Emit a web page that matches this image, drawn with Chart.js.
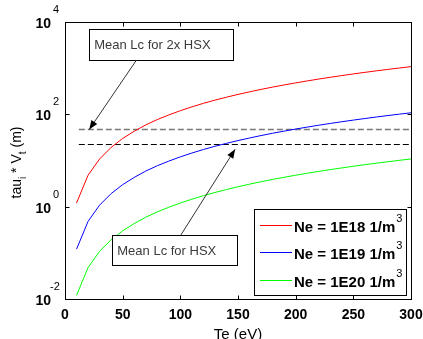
<!DOCTYPE html>
<html>
<head>
<meta charset="utf-8">
<script src="https://cdn.jsdelivr.net/npm/chart.js@4"></script>
<style>
  html, body { margin: 0; padding: 0; background: #fff; }
  #chart { display: block; }
</style>
</head>
<body>
<canvas id="chart" width="423" height="339"></canvas>
<script>
// electron temperature (eV)
const te = [10, 20, 30, 40, 50, 60, 70, 80, 90, 100, 110, 120, 130, 140, 150,
            160, 170, 180, 190, 200, 210, 220, 230, 240, 250, 260, 270, 280, 290, 300];

// tau_i * V_t (m) for each density
const ne18 = [1.2, 4.8, 10.8, 19.2, 30, 43, 59, 77, 97, 120, 145, 173, 203, 235, 270,
              307, 347, 389, 433, 480, 529, 581, 635, 691, 750, 811, 875, 941, 1009, 1080];
const ne19 = [0.12, 0.48, 1.08, 1.92, 3.0, 4.3, 5.9, 7.7, 9.7, 12, 14.5, 17.3, 20.3, 23.5, 27,
              30.7, 34.7, 38.9, 43.3, 48, 52.9, 58.1, 63.5, 69.1, 75, 81.1, 87.5, 94.1, 100.9, 108];
const ne20 = [0.012, 0.048, 0.108, 0.192, 0.30, 0.43, 0.59, 0.77, 0.97, 1.2, 1.45, 1.73, 2.03, 2.35, 2.7,
              3.07, 3.47, 3.89, 4.33, 4.8, 5.29, 5.81, 6.35, 6.91, 7.5, 8.11, 8.75, 9.41, 10.09, 10.8];

const seriesLabels = ["Ne = 1E18 1/m", "Ne = 1E19 1/m", "Ne = 1E20 1/m"];

// mean connection lengths (dashed lines)
const lcX = [12, 300];
const lc2xHSX = 47;
const lcHSX = 22.2;

const xTicks = [0, 50, 100, 150, 200, 250, 300];
const yTickExps = [-2, 0, 2, 4];

const toPts = (ys) => ys.map((y, i) => ({x: te[i], y: y}));

const lineSet = (label, ys, color) => ({
    label: label,
    data: toPts(ys),
    borderColor: color,
    borderWidth: 1,
    pointRadius: 0,
    tension: 0,
    fill: false
});

const dashSet = (val, color, width) => ({
    label: "",
    data: lcX.map(x => ({x: x, y: val})),
    borderColor: color,
    borderWidth: width,
    borderDash: [6, 3],
    pointRadius: 0,
    fill: false,
    isRef: true
});

const FONT = "'Liberation Sans', Arial, sans-serif";

const drawArrow = (ctx, x0, y0, x1, y1) => {
    ctx.save();
    ctx.strokeStyle = "#333";
    ctx.fillStyle = "#000";
    ctx.lineWidth = 1;
    ctx.beginPath();
    ctx.moveTo(x0, y0);
    ctx.lineTo(x1, y1);
    ctx.stroke();
    const a = Math.atan2(y1 - y0, x1 - x0);
    const len = 9, w = 3.5;
    const bx = x1 - len * Math.cos(a), by = y1 - len * Math.sin(a);
    ctx.beginPath();
    ctx.moveTo(x1, y1);
    ctx.lineTo(bx + w * Math.sin(a), by - w * Math.cos(a));
    ctx.lineTo(bx - w * Math.sin(a), by + w * Math.cos(a));
    ctx.closePath();
    ctx.fill();
    ctx.restore();
};

const textBox = (ctx, xs, ys, x0, x1, y0, y1, text) => {
    const l = xs.getPixelForValue(x0), r = xs.getPixelForValue(x1);
    const t = ys.getPixelForValue(y0), b = ys.getPixelForValue(y1);
    ctx.save();
    ctx.fillStyle = "#fff";
    ctx.fillRect(l, t, r - l, b - t);
    ctx.strokeStyle = "#000";
    ctx.lineWidth = 1;
    ctx.strokeRect(Math.round(l) + 0.5, Math.round(t) + 0.5, Math.round(r - l), Math.round(b - t));
    ctx.fillStyle = "#3a3a3a";
    ctx.font = "13px " + FONT;
    ctx.textBaseline = "middle";
    ctx.textAlign = "left";
    ctx.fillText(text, l + 5, (t + b) / 2 + 1);
    ctx.restore();
};

const matlabLook = {
    id: "matlabLook",
    afterDatasetsDraw(chart) {
        const ctx = chart.ctx;
        const area = chart.chartArea;
        const xs = chart.scales.x, ys = chart.scales.y;
        const L = Math.round(area.left) + 0.5, R = Math.round(area.right) + 0.5;
        const T = Math.round(area.top) + 0.5, B = Math.round(area.bottom) + 0.5;

        ctx.save();
        // frame
        ctx.strokeStyle = "#000";
        ctx.lineWidth = 1;
        ctx.strokeRect(L, T, R - L, B - T);

        // inward ticks
        ctx.beginPath();
        xTicks.forEach(v => {
            const px = Math.round(xs.getPixelForValue(v)) + 0.5;
            ctx.moveTo(px, B); ctx.lineTo(px, B - 4);
            ctx.moveTo(px, T); ctx.lineTo(px, T + 4);
        });
        yTickExps.forEach(e => {
            const py = Math.round(ys.getPixelForValue(Math.pow(10, e))) + 0.5;
            ctx.moveTo(L, py); ctx.lineTo(L + 4, py);
            ctx.moveTo(R, py); ctx.lineTo(R - 4, py);
        });
        ctx.stroke();

        // tick labels
        ctx.fillStyle = "#000";
        ctx.font = "bold 14px " + FONT;
        ctx.textAlign = "center";
        ctx.textBaseline = "middle";
        xTicks.forEach(v => {
            ctx.fillText(String(v), xs.getPixelForValue(v), area.bottom + 16);
        });
        yTickExps.forEach(e => {
            const py = ys.getPixelForValue(Math.pow(10, e));
            ctx.font = "bold 14px " + FONT;
            ctx.textAlign = "right";
            ctx.fillText("10", area.left - 14, py + 2);
            ctx.font = "11px " + FONT;
            ctx.textAlign = "left";
            ctx.fillText(String(e), area.left - (e < 0 ? 15 : 12), py - 12);
        });

        // x title
        ctx.font = "15px " + FONT;
        ctx.textAlign = "center";
        ctx.fillText("Te (eV)", (area.left + area.right) / 2, area.bottom + 36);

        // y title with subscripts
        ctx.save();
        ctx.translate(17, (area.top + area.bottom) / 2 + 2);
        ctx.rotate(-Math.PI / 2);
        const parts = [["tau", 0], ["i", 1], [" * V", 0], ["t", 1], [" (m)", 0]];
        let total = 0;
        parts.forEach(p => {
            ctx.font = (p[1] ? "10px " : "14px ") + FONT;
            total += ctx.measureText(p[0]).width;
        });
        let cx = -total / 2;
        ctx.textAlign = "left";
        parts.forEach(p => {
            ctx.font = (p[1] ? "10px " : "14px ") + FONT;
            ctx.fillText(p[0], cx, p[1] ? 6 : 0);
            cx += ctx.measureText(p[0]).width;
        });
        ctx.restore();

        // annotations
        textBox(ctx, xs, ys, 21, 145.5, 6950, 1500, "Mean Lc for 2x HSX");
        drawArrow(ctx, xs.getPixelForValue(62), ys.getPixelForValue(1500),
                  xs.getPixelForValue(21), ys.getPixelForValue(lc2xHSX));
        textBox(ctx, xs, ys, 41, 149.5, 0.244, 0.0546, "Mean Lc for HSX");
        drawArrow(ctx, xs.getPixelForValue(100.5), ys.getPixelForValue(0.244),
                  xs.getPixelForValue(147.5), ys.getPixelForValue(17.5));

        // legend
        const lgL = 254, lgT = 209, lgR = 406, lgB = 295;
        ctx.fillStyle = "#fff";
        ctx.fillRect(lgL, lgT, lgR - lgL, lgB - lgT);
        ctx.strokeStyle = "#000";
        ctx.strokeRect(lgL + 0.5, lgT + 0.5, lgR - lgL, lgB - lgT);
        const rows = chart.data.datasets.filter(d => !d.isRef);
        rows.forEach((d, i) => {
            const yy = 224.5 + i * 27.7;
            ctx.strokeStyle = d.borderColor;
            ctx.beginPath();
            ctx.moveTo(260, Math.round(yy) + 0.5);
            ctx.lineTo(292, Math.round(yy) + 0.5);
            ctx.stroke();
            ctx.fillStyle = "#000";
            ctx.font = "bold 15px " + FONT;
            ctx.textAlign = "left";
            ctx.fillText(d.label, 294, yy + 3);
            const w = ctx.measureText(d.label).width;
            ctx.font = "11px " + FONT;
            ctx.fillText("3", 294 + w + 1, yy - 6);
        });
        ctx.restore();
    }
};

new Chart(document.getElementById("chart"), {
    type: "line",
    data: {
        datasets: [
            lineSet(seriesLabels[0], ne18, "#ff0000"),
            lineSet(seriesLabels[1], ne19, "#0000ff"),
            lineSet(seriesLabels[2], ne20, "#00ff00"),
            dashSet(lc2xHSX, "#7a7a7a", 1.5),
            dashSet(lcHSX, "#000000", 1)
        ]
    },
    options: {
        responsive: false,
        animation: false,
        devicePixelRatio: 1,
        layout: {padding: {left: 65, right: 12, top: 22, bottom: 40}},
        plugins: {legend: {display: false}, tooltip: {enabled: false}},
        scales: {
            x: {
                type: "linear", min: 0, max: 300,
                grid: {display: false}, border: {display: false},
                ticks: {display: false},
                afterFit: (s) => { s.height = 0; }
            },
            y: {
                type: "logarithmic", min: 0.01, max: 10000,
                grid: {display: false}, border: {display: false},
                ticks: {display: false},
                afterFit: (s) => { s.width = 0; }
            }
        }
    },
    plugins: [matlabLook]
});
</script>
</body>
</html>
